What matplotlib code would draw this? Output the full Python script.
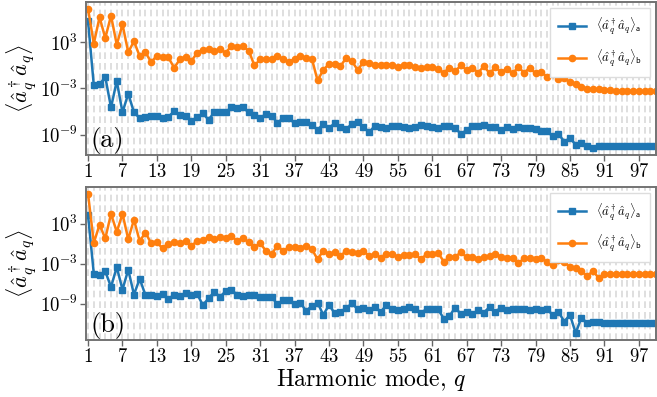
import matplotlib
matplotlib.use("Agg")
import matplotlib.pyplot as plt
import numpy as np

# style proche du rendu LaTeX
plt.rcParams['font.family'] = 'serif'
plt.rcParams['font.serif'] = ['cmr10']
plt.rcParams['mathtext.fontset'] = 'cm'
plt.rcParams['axes.formatter.use_mathtext'] = True

q = np.arange(1, 101)

# log10 des populations, panneau (a)
a_top = [5.65, -2.6, -2.47, -1.53, -5.46, -2.04, -6.1, -3.67, -6.1, -6.83,
         -6.74, -6.53, -6.53, -6.83, -6.66, -5.97, -6.4, -6.53, -7.17, -6.74,
         -6.23, -7.04, -6.1, -6.02, -6.02, -5.46, -5.55, -5.46, -6.1, -6.4,
         -6.83, -6.32, -6.53, -7.47, -6.83, -6.83, -7.51, -7.38, -7.38, -7.68,
         -8.37, -7.6, -8.1, -7.51, -8.03, -8.24, -7.6, -7.38, -7.94, -8.67,
         -7.81, -7.94, -8.15, -7.9, -7.81, -7.94, -8.15, -7.94, -7.68, -7.9,
         -7.94, -8.1, -7.9, -7.9, -8.1, -8.89, -8.37, -7.81, -7.81, -7.73,
         -7.94, -7.94, -8.37, -8.03, -8.24, -7.94, -8.1, -8.15, -8.24, -8.54,
         -8.54, -9.18, -8.89, -9.86, -9.44, -10.25, -10.08, -10.38, -10.68, -10.38,
         -10.5, -10.38, -10.38, -10.38, -10.38, -10.38, -10.38, -10.38, -10.38, -10.38]
b_top = [7.27, 2.79, 6.2, 3.5, 6.4, 2.66, 5.26, 1.68, 3.09, 1.16,
         1.68, 0.39, 1.25, 1.08, 1.0, -0.33, 0.74, 1.12, 0.52, 1.59,
         2.02, 2.1, 1.8, 2.1, 1.59, 2.53, 2.32, 2.44, 1.89, -0.03,
         0.74, 0.74, 0.8, 1.16, 0.82, 0.44, 0.82, 1.16, 0.95, 0.86,
         -1.96, -0.63, 0.18, 0.18, -0.12, 0.95, 0.52, -0.63, 0.44, 0.31,
         -0.03, 0.09, 0.09, 0.0, -0.25, 0.09, -0.03, -0.21, -0.33, -0.25,
         -0.21, -0.55, -0.97, -0.33, -0.76, -0.03, -0.63, -0.33, -0.97, -0.12,
         -1.06, -0.25, -0.89, -0.46, -1.06, -0.25, -0.97, -0.33, -1.06, -0.89,
         -1.49, -1.19, -1.74, -1.7, -2.17, -2.47, -2.77, -3.03, -3.11, -3.11,
         -3.24, -3.2, -3.32, -3.32, -3.32, -3.37, -3.37, -3.37, -3.37, -3.37]

# panneau (b)
a_bot = [4.23, -4.5, -4.75, -4.16, -6.48, -3.52, -6.88, -3.91, -7.62, -5.25,
         -7.72, -7.62, -7.86, -7.47, -8.36, -7.62, -7.86, -7.37, -7.72, -7.52,
         -9.2, -8.21, -7.22, -7.96, -7.12, -6.98, -7.62, -7.77, -7.72, -7.62,
         -8.01, -8.01, -7.98, -9.1, -8.51, -8.51, -9.1, -8.85, -10.09, -9.35,
         -8.85, -10.68, -9.2, -10.43, -10.19, -9.69, -8.95, -9.84, -9.59, -9.99,
         -9.49, -10.19, -9.25, -9.84, -9.99, -9.74, -9.44, -9.74, -10.33, -9.84,
         -9.84, -9.84, -11.22, -10.83, -9.59, -10.58, -10.19, -10.58, -9.99, -10.33,
         -9.49, -10.19, -9.59, -9.99, -9.84, -9.74, -9.74, -9.99, -9.74, -9.99,
         -9.84, -10.68, -10.23, -11.67, -10.68, -13.4, -11.07, -11.96, -11.67, -11.81,
         -11.91, -11.91, -11.91, -11.91, -11.91, -11.91, -11.91, -11.91, -11.91, -11.91]
b_bot = [7.44, 0.14, 2.85, 0.78, 4.48, 1.77, 4.48, 0.68, 3.59, 0.38,
         1.67, 0.04, 0.19, -0.7, -0.11, 0.19, 0.04, 0.38, -0.31, 0.38,
         0.53, 0.93, 0.63, 1.02, 0.78, 1.17, 0.38, 0.88, 0.19, -0.46,
         0.04, -1.05, -1.54, -0.31, -1.05, -0.56, -0.56, -0.7, -0.36, -0.8,
         -2.33, -1.05, -1.54, -1.3, -1.79, -1.1, -1.2, -1.35, -1.1, -1.84,
         -1.54, -2.09, -1.54, -1.54, -1.94, -1.69, -1.69, -1.54, -2.33, -1.59,
         -1.59, -1.35, -2.68, -2.04, -1.94, -1.3, -2.04, -2.04, -2.33, -1.94,
         -1.84, -1.54, -1.94, -2.09, -2.09, -2.93, -2.19, -2.19, -2.33, -2.19,
         -2.68, -3.17, -2.43, -2.78, -3.52, -3.67, -4.06, -4.9, -4.06, -5.15,
         -4.56, -4.56, -4.56, -4.56, -4.56, -4.56, -4.56, -4.56, -4.56, -4.56]

xticks = np.arange(1, 100, 6)
yticks = [1e3, 1e-3, 1e-9]
panels = [(a_top, b_top, '(a)'), (a_bot, b_bot, '(b)')]

fig = plt.figure(figsize=(6.57, 3.97), dpi=100)
ax1 = fig.add_axes([0.131, 0.610, 0.8675, 0.385])
ax2 = fig.add_axes([0.131, 0.1436, 0.8675, 0.385])

for ax, (ya, yb, lab) in zip([ax1, ax2], panels):
    for k in q:
        ax.axvline(k, color='#d9d9d9', ls=(0, (4, 2.4)), lw=1.2, zorder=0)
    ax.semilogy(q, 10.0 ** np.array(ya), color='C0', marker='s', ms=4.5, lw=1.8,
                label=r'$\langle\hat{a}_q^\dagger\hat{a}_q\rangle_\mathsf{a}$')
    ax.semilogy(q, 10.0 ** np.array(yb), color='C1', marker='o', ms=4.5, lw=1.8,
                label=r'$\langle\hat{a}_q^\dagger\hat{a}_q\rangle_\mathsf{b}$')
    ax.set_xlim(0.65, 100)
    ax.set_xticks(xticks)
    ax.set_yticks(yticks)
    ax.yaxis.set_minor_locator(matplotlib.ticker.NullLocator())
    ax.tick_params(labelsize=13.5, color='0.4', length=4, width=1, pad=2)
    for s in ax.spines.values():
        s.set_color('0.45')
        s.set_linewidth(1.4)
    ax.set_ylabel(r'$\langle\hat{a}_q^\dagger\hat{a}_q\rangle$', fontsize=16)
    ax.yaxis.set_label_coords(-0.082, 0.5)
    ax.text(0.008, 0.05, lab, transform=ax.transAxes, fontsize=19)
    ax.legend(loc='upper right', fontsize=9, numpoints=1, handlelength=2.3,
              fancybox=False, edgecolor='#dddddd', framealpha=1,
              borderpad=0.6, labelspacing=0.8, borderaxespad=0.5)

ax2.set_xlabel(r'Harmonic mode, $q$', fontsize=17, labelpad=0)

fig.savefig('out.png', dpi=100)
